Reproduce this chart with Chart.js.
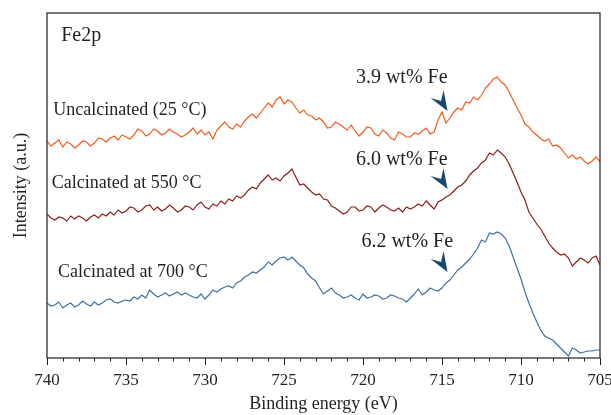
<!DOCTYPE html>
<html>
<head>
<meta charset="utf-8">
<script src="https://cdn.jsdelivr.net/npm/chart.js@4.4.0/dist/chart.umd.min.js"></script>
<style>
  html, body { margin: 0; padding: 0; background: #fff; }
  #wrap { width: 611px; height: 415px; }
</style>
</head>
<body>
<div id="wrap"><canvas id="xpsChart"></canvas></div>
<script>
// Fe2p XPS spectra, binding energy in eV

const energy = [
  740, 739.75, 739.5, 739.25, 739, 738.75, 738.5, 738.25, 738, 737.75,
  737.5, 737.25, 737, 736.75, 736.5, 736.25, 736, 735.75, 735.5, 735.25,
  735, 734.75, 734.5, 734.25, 734, 733.75, 733.5, 733.25, 733, 732.75,
  732.5, 732.25, 732, 731.75, 731.5, 731.25, 731, 730.75, 730.5, 730.25,
  730, 729.75, 729.5, 729.25, 729, 728.75, 728.5, 728.25, 728, 727.75,
  727.5, 727.25, 727, 726.75, 726.5, 726.25, 726, 725.75, 725.5, 725.25,
  725, 724.75, 724.5, 724.25, 724, 723.75, 723.5, 723.25, 723, 722.75,
  722.5, 722.25, 722, 721.75, 721.5, 721.25, 721, 720.75, 720.5, 720.25,
  720, 719.75, 719.5, 719.25, 719, 718.75, 718.5, 718.25, 718, 717.75,
  717.5, 717.25, 717, 716.75, 716.5, 716.25, 716, 715.75, 715.5, 715.25,
  715, 714.75, 714.5, 714.25, 714, 713.75, 713.5, 713.25, 713, 712.75,
  712.5, 712.25, 712, 711.75, 711.5, 711.25, 711, 710.75, 710.5, 710.25,
  710, 709.75, 709.5, 709.25, 709, 708.75, 708.5, 708.25, 708, 707.75,
  707.5, 707.25, 707, 706.75, 706.5, 706.25, 706, 705.75, 705.5, 705.25,
  705
];

const uncalcined = [
  217, 212, 215, 218, 211, 216, 214, 210, 213, 217,
  216, 212, 215, 220, 219, 216, 220, 222, 218, 223,
  221, 219, 223, 229, 227, 222, 224, 229, 227, 223,
  225, 229, 226, 224, 221, 223, 226, 230, 224, 228,
  223, 226, 219, 228, 232, 236, 231, 229, 234, 231,
  237, 241, 244, 240, 245, 250, 255, 251, 258, 261,
  254, 258, 256, 250, 245, 248, 243, 242, 238, 240,
  236, 230, 231, 236, 234, 231, 228, 233, 227, 222,
  226, 231, 230, 224, 222, 228, 225, 220, 218, 226,
  224, 221, 221, 225, 224, 227, 230, 224, 226, 238,
  246, 235, 240, 246, 250, 248, 256, 255, 261, 258,
  263, 270, 274, 279, 281, 276, 273, 266, 258, 250,
  243, 234, 231, 226, 223, 219, 217, 219, 212, 213,
  210, 205, 200, 203, 199, 201, 197, 194, 197, 201,
  196
];

const calc550 = [
  144, 140, 138, 141, 140, 137, 142, 139, 142, 140,
  137, 141, 143, 140, 144, 142, 146, 143, 148, 145,
  147, 151, 150, 146, 148, 152, 153, 148, 151, 147,
  149, 153, 150, 146, 148, 152, 151, 148, 153, 156,
  151, 149, 154, 152, 157, 154, 159, 157, 162, 160,
  163, 168, 171, 169, 175, 179, 183, 178, 180, 177,
  182, 185, 189, 181, 173, 174, 170, 166, 163, 164,
  159, 158, 152, 150, 147, 144, 146, 151, 151, 147,
  148, 152, 151, 146, 150, 153, 151, 148, 147, 150,
  146, 151, 149, 151, 154, 152, 157, 153, 149, 156,
  158, 161, 163, 167, 171, 173, 177, 183, 187, 190,
  195, 198, 205, 203, 208, 205, 201, 194, 185, 176,
  166, 158, 146, 140, 134, 129, 122, 115, 110, 106,
  103, 104, 100, 92, 96, 100, 98, 95, 100, 102,
  93
];

const calc700 = [
  55, 52, 53, 56, 50, 53, 55, 51, 53, 57,
  54, 52, 56, 53, 55, 58, 59, 56, 55, 57,
  58, 57, 61, 59, 63, 60, 68, 64, 61, 63,
  65, 62, 64, 66, 63, 65, 63, 61, 60, 64,
  59, 63, 68, 66, 69, 71, 72, 70, 75, 77,
  81, 83, 86, 85, 88, 91, 96, 93, 97, 100,
  101, 98, 101, 97, 93, 90, 84, 80, 77, 70,
  64, 67, 70, 65, 63, 60, 61, 63, 60, 58,
  64, 60, 61, 63, 62, 59, 60, 63, 62, 60,
  59, 56, 60, 64, 69, 63, 66, 70, 68, 67,
  70, 75, 78, 83, 88, 91, 95, 99, 104, 110,
  118, 116, 125, 124, 126, 124, 120, 112, 101, 90,
  79, 66, 55, 45, 36, 28, 22, 20, 18, 14,
  10, 6, 2, 10, 8, 5, 6, 7, 7, 8,
  8
];

const seriesNames = ['Uncalcinated (25 °C)', 'Calcinated at 550 °C', 'Calcinated at 700 °C'];
const feLabels = ['3.9 wt% Fe', '6.0 wt% Fe', '6.2 wt% Fe'];
const xTicks = [740, 735, 730, 725, 720, 715, 710, 705];

const colors = ['#f05a1a', '#8c1d1d', '#3d70a3'];
const textColor = '#231f20';
const arrowColor = '#174a6e';
const serif = '"Liberation Serif", "DejaVu Serif", serif';

function pts(ys) {
  return ys.map((y, i) => ({ x: energy[i], y: y }));
}

// text and arrow placement in data units (eV, intensity)
const notes = [
  { text: 'Fe2p', x: 739.1, y: 322, size: 20 },
  { text: seriesNames[0], x: 739.6, y: 248, size: 18 },
  { text: seriesNames[1], x: 739.7, y: 175, size: 18 },
  { text: seriesNames[2], x: 739.3, y: 86, size: 18 },
  { text: feLabels[0], x: 720.45, y: 280, size: 20 },
  { text: feLabels[1], x: 720.45, y: 198, size: 20 },
  { text: feLabels[2], x: 720.1, y: 116, size: 20 }
];
const arrows = [
  { x: 714.65, y: 247 },
  { x: 714.65, y: 169 },
  { x: 714.65, y: 86 }
];

const decor = {
  id: 'decor',
  afterDatasetsDraw(chart) {
    const { ctx, chartArea: a, scales: { x, y } } = chart;
    ctx.save();
    // frame
    ctx.strokeStyle = textColor;
    ctx.lineWidth = 1.2;
    ctx.strokeRect(a.left, a.top, a.right - a.left, a.bottom - a.top);
    // ticks, major every 5 eV, minor every 1 eV
    ctx.lineWidth = 1;
    for (let e = 705; e <= 740; e++) {
      const px = Math.round(x.getPixelForValue(e)) + 0.5;
      const len = e % 5 === 0 ? 7 : 3.5;
      ctx.beginPath();
      ctx.moveTo(px, a.bottom);
      ctx.lineTo(px, a.bottom + len);
      ctx.stroke();
    }
    // labels
    ctx.fillStyle = textColor;
    ctx.textAlign = 'left';
    ctx.textBaseline = 'middle';
    notes.forEach(n => {
      ctx.font = n.size + 'px ' + serif;
      ctx.fillText(n.text, x.getPixelForValue(n.x), y.getPixelForValue(n.y));
    });
    // arrowheads
    ctx.fillStyle = arrowColor;
    arrows.forEach(p => {
      const tx = x.getPixelForValue(p.x);
      const ty = y.getPixelForValue(p.y);
      ctx.beginPath();
      ctx.moveTo(tx, ty);
      ctx.lineTo(tx - 17, ty - 13);
      ctx.lineTo(tx - 6.5, ty - 10);
      ctx.lineTo(tx - 4, ty - 21);
      ctx.closePath();
      ctx.fill();
    });
    ctx.restore();
  }
};

new Chart(document.getElementById('xpsChart'), {
  type: 'line',
  data: {
    datasets: [
      { label: seriesNames[0], data: pts(uncalcined), borderColor: colors[0] },
      { label: seriesNames[1], data: pts(calc550), borderColor: colors[1] },
      { label: seriesNames[2], data: pts(calc700), borderColor: colors[2] }
    ]
  },
  options: {
    responsive: true,
    maintainAspectRatio: false,
    animation: false,
    layout: { padding: { top: 13, right: 11, bottom: 0, left: 0 } },
    elements: {
      line: { borderWidth: 1.2, tension: 0, fill: false },
      point: { radius: 0 }
    },
    plugins: {
      legend: { display: false },
      tooltip: { enabled: false }
    },
    scales: {
      x: {
        type: 'linear',
        reverse: true,
        min: 705,
        max: 740,
        afterBuildTicks: scale => {
          scale.ticks = xTicks.map(v => ({ value: v }));
        },
        afterFit: scale => {
          scale.paddingRight = 0;
          scale.paddingLeft = 0;
          scale.height = 57;
        },
        grid: { display: false, drawTicks: false },
        border: { display: false },
        ticks: {
          padding: 12,
          maxRotation: 0,
          autoSkip: false,
          color: textColor,
          font: { family: serif, size: 17 }
        },
        title: {
          display: true,
          text: 'Binding energy (eV)',
          color: textColor,
          font: { family: serif, size: 18 },
          padding: { top: 0, bottom: 0 }
        }
      },
      y: {
        min: 0,
        max: 345,
        grid: { display: false, drawTicks: false },
        border: { display: false },
        ticks: { display: false },
        title: {
          display: true,
          text: 'Intensity (a.u.)',
          color: textColor,
          font: { family: serif, size: 18 },
          padding: { top: 10.7, bottom: 14.7 }
        }
      }
    }
  },
  plugins: [decor]
});
</script>
</body>
</html>
